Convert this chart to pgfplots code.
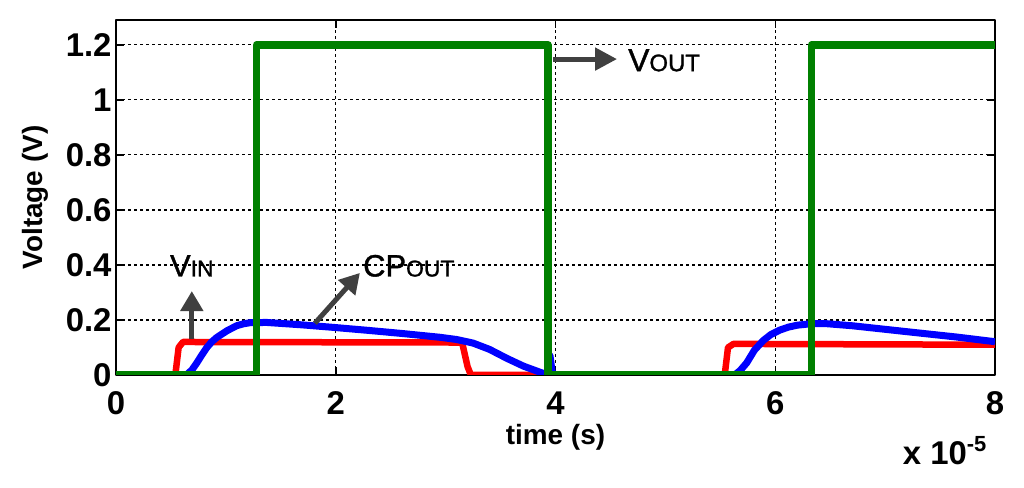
\documentclass[border=0pt]{standalone}
\usepackage{pgfplots}
\pgfplotsset{compat=1.18}
\usepackage{fontspec}
\setmainfont{Liberation Sans}
\newfontfamily\annfont[FakeBold=1.2]{Liberation Sans}
\usetikzlibrary{arrows.meta}
\definecolor{mgreen}{RGB}{0,128,0}
\definecolor{arrgray}{RGB}{64,64,64}
\begin{document}
\begin{tikzpicture}
\useasboundingbox (0,0) rectangle (1024bp,488bp);
\begin{axis}[
  at={(116bp,113bp)}, anchor=south west,
  scale only axis, width=879bp, height=355bp,
  xmin=0, xmax=8, ymin=0, ymax=1.29,
  clip mode=individual,
  xtick={0,2,4,6,8}, xticklabels={0,2,4,6,8},
  ytick={0,0.2,0.4,0.6,0.8,1,1.2}, yticklabels={0,0.2,0.4,0.6,0.8,1,1.2},
  tick label style={font=\fontsize{33}{36}\selectfont\bfseries},
  xticklabel style={yshift=-13bp},
  yticklabel style={xshift=-1bp},
  major tick length=8bp,
  tick style={black, line width=1.5bp},
  axis line style={line width=2bp},
  grid=major,
  major grid style={black, line width=1.3bp, dash pattern=on 2.5bp off 3.5bp},
  xlabel={time (s)}, ylabel={Voltage (V)},
  label style={font=\fontsize{28}{32}\selectfont\bfseries},
  xlabel style={at={(axis description cs:0.5,-0.175)}, anchor=center},
  ylabel style={at={(axis description cs:-0.092,0.5)}, anchor=center},
  line join=round,
]
% VIN
\addplot[red, line width=6.5bp] coordinates {
(0,0) (0.54,0) (0.57,0.1) (0.61,0.12) (3.15,0.118) (3.2,0.03) (3.23,0) (5.54,0) (5.57,0.1) (5.62,0.113) (8,0.11)
};
% CPOUT
\addplot[blue, line width=7bp] coordinates {
(0,0) (0.64,0) (0.69,0.018) (0.734,0.043) (0.78,0.072) (0.825,0.099) (0.87,0.12) (0.916,0.136) (1.007,0.16) (1.098,0.179) (1.16,0.186) (1.22,0.19) (1.37,0.191) (1.7,0.182) (1.98,0.173) (2.3,0.162) (2.6,0.151) (2.95,0.137) (3.1,0.129) (3.25,0.116) (3.4,0.093) (3.56,0.06) (3.71,0.032) (3.86,0.01) (3.93,0) (3.95,0.07) (3.97,0.01) (4.0,0)
(5.63,0) (5.68,0.016) (5.74,0.044) (5.81,0.09) (5.89,0.125) (5.96,0.147) (6.04,0.163) (6.12,0.174) (6.2,0.181) (6.32,0.186) (6.45,0.187) (6.7,0.179) (7.0,0.166) (7.3,0.153) (7.65,0.138) (8,0.121)
};
% VOUT
\addplot[mgreen, line width=7.5bp] coordinates {
(0,0) (1.28,0) (1.28,1.2) (3.93,1.2) (3.93,0) (6.33,0) (6.33,1.2) (8,1.2)
};
% annotations
\draw[arrgray, line width=5bp, -{Triangle[length=20bp,width=22bp]}] (axis cs:0.69,0.131) -- (axis cs:0.69,0.305);
\draw[arrgray, line width=5bp, -{Triangle[length=20bp,width=22bp]}] (axis cs:1.81,0.188) -- (axis cs:2.22,0.371);
\draw[arrgray, line width=5bp, -{Triangle[length=22bp,width=22bp]}] (axis cs:3.98,1.148) -- (axis cs:4.56,1.148);
\node[anchor=base, inner sep=0pt] at (axis cs:0.69,0.358) {\annfont\fontsize{31}{34}\selectfont V\fontsize{23}{26}\selectfont IN};
\node[anchor=base west, inner sep=0pt] at (axis cs:2.248,0.358) {\annfont\fontsize{31}{34}\selectfont CP\fontsize{23}{26}\selectfont OUT};
\node[anchor=base west, inner sep=0pt] at (axis cs:4.66,1.104) {\annfont\fontsize{32}{34}\selectfont V\fontsize{24}{26}\selectfont OUT};
\node[anchor=base west, inner sep=0pt] at (axis description cs:0.895,-0.2535) {\fontsize{33}{36}\selectfont\bfseries x 10\raisebox{13bp}{\fontsize{22}{24}\selectfont -5}};
\end{axis}
\end{tikzpicture}
\end{document}
